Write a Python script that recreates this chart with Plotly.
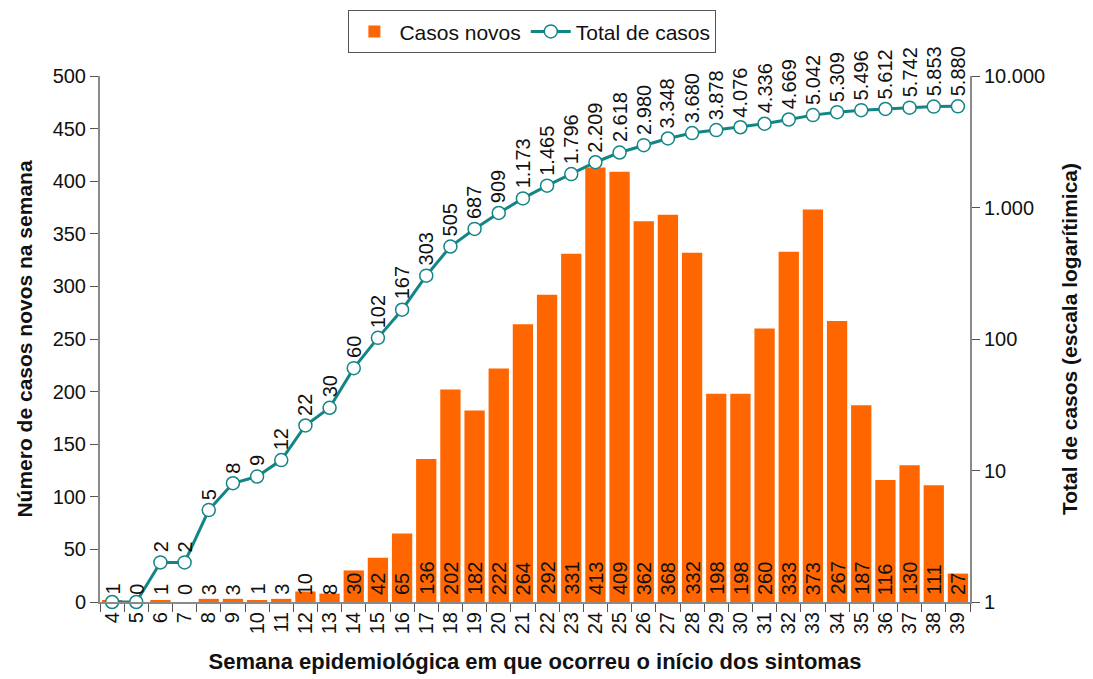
import math
import plotly.graph_objects as go

semanas = [str(w) for w in range(4, 40)]
casos_novos = [1, 0, 1, 0, 3, 3, 1, 3, 10, 8, 30, 42, 65, 136, 202, 182, 222, 264, 292,
               331, 413, 409, 362, 368, 332, 198, 198, 260, 333, 373, 267, 187, 116, 130, 111, 27]
total_casos = [1, 1, 2, 2, 5, 8, 9, 12, 22, 30, 60, 102, 167, 303, 505, 687, 909, 1173, 1465,
               1796, 2209, 2618, 2980, 3348, 3680, 3878, 4076, 4336, 4669, 5042, 5309, 5496,
               5612, 5742, 5853, 5880]
log_ticks = [1, 10, 100, 1000, 10000]
log_ticktext = ["1", "10", "100", "1.000", "10.000"]

FONT = "Liberation Sans, Arial, sans-serif"
ORANGE = "#ff6600"
TEAL = "#148585"
AXIS = "#8a8a8a"
NUM = 20

def fmt(v):
    return f"{v:,}".replace(",", ".")

fig = go.Figure()
fig.add_trace(go.Bar(
    x=semanas, y=casos_novos, name="Casos novos",
    marker=dict(color=ORANGE, line=dict(width=0)),
    yaxis="y",
))
fig.add_trace(go.Scatter(
    x=semanas, y=total_casos, name="Total de casos", mode="lines+markers",
    line=dict(color=TEAL, width=3),
    marker=dict(symbol="circle", size=13, color="white", line=dict(color=TEAL, width=1.5)),
    yaxis="y2", cliponaxis=False,
))

annotations = []
for i, v in enumerate(casos_novos):
    annotations.append(dict(
        x=i, y=0, xref="x", yref="y", text=str(v), showarrow=False,
        textangle=-90, yanchor="bottom", xanchor="center", yshift=5,
        font=dict(family=FONT, size=NUM, color="#111111"),
    ))
for i, v in enumerate(total_casos):
    if i < 2:
        continue
    annotations.append(dict(
        x=i, y=math.log10(v), xref="x", yref="y2", text=fmt(v), showarrow=False,
        textangle=-90, yanchor="bottom", xanchor="center", yshift=8,
        font=dict(family=FONT, size=NUM, color="#111111"),
    ))

fig.update_layout(
    width=1085, height=671,
    margin=dict(l=92, r=123, t=68, b=77, autoexpand=False),
    paper_bgcolor="white", plot_bgcolor="white",
    font=dict(family=FONT, size=NUM, color="#111111"),
    bargap=0.16,
    showlegend=True,
    legend=dict(
        orientation="h", x=0.497, xanchor="center", y=1.125, yanchor="top",
        bordercolor="#555555", borderwidth=1, bgcolor="white",
        font=dict(family=FONT, size=21), itemwidth=40, tracegroupgap=0,
    ),
    xaxis=dict(
        type="category", range=[-0.5, 35.5],
        showline=True, linecolor=AXIS, linewidth=2,
        ticks="outside", tickson="boundaries", ticklen=8, tickcolor="#555555",
        tickangle=-90, tickfont=dict(family=FONT, size=NUM),
        title=dict(text="<b>Semana epidemiológica em que ocorreu o início dos sintomas</b>",
                   font=dict(family=FONT, size=22), standoff=20),
        showgrid=False,
    ),
    yaxis=dict(
        range=[0, 500], dtick=50,
        showline=True, linecolor=AXIS, linewidth=2,
        ticks="outside", ticklen=8, tickcolor="#555555",
        tickfont=dict(family=FONT, size=NUM),
        title=dict(text="<b>Número de casos novos na semana</b>",
                   font=dict(family=FONT, size=21), standoff=14),
        showgrid=False, zeroline=False,
    ),
    yaxis2=dict(
        type="log", range=[0, 4], overlaying="y", side="right",
        tickvals=log_ticks, ticktext=log_ticktext,
        showline=True, linecolor=AXIS, linewidth=2,
        ticks="outside", ticklen=8, tickcolor="#555555",
        tickfont=dict(family=FONT, size=NUM),
        title=dict(text="<b>Total de casos (escala logarítimica)</b>",
                   font=dict(family=FONT, size=21), standoff=18),
        showgrid=False, zeroline=False,
    ),
    annotations=annotations,
)

fig.write_html("out.html")
